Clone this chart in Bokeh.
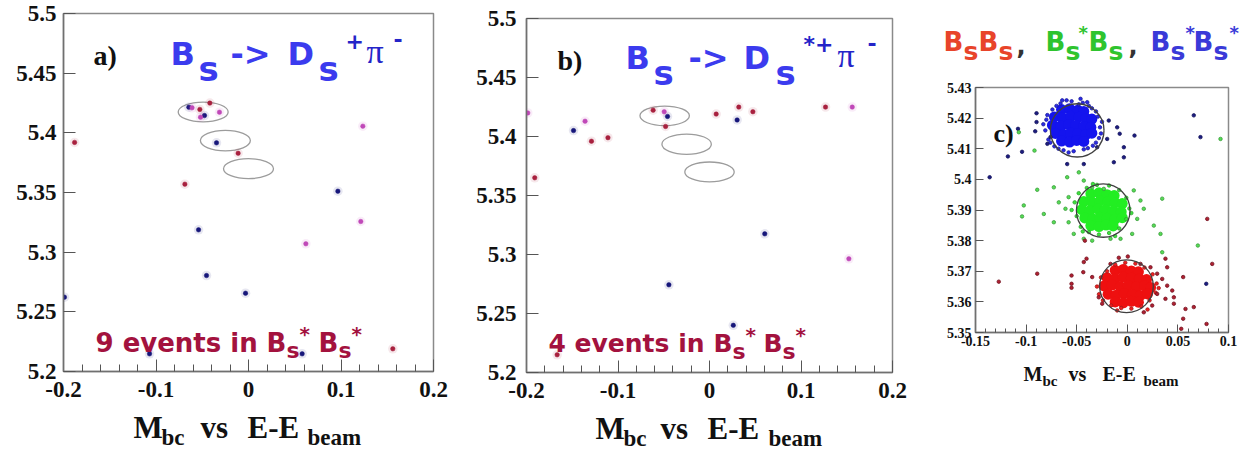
from bokeh.plotting import figure
from bokeh.models import Label, FixedTicker, Range1d
from bokeh.layouts import row, column
from bokeh.embed import file_html
from bokeh.resources import INLINE

# ---------------- data: panel a (Bs -> Ds+ pi-) ----------------
a_navy_x = [-0.0645, -0.0476, -0.0346, 0.0966, -0.054, -0.0454, -0.0032, -0.199, -0.107, 0.058]
a_navy_y = [5.4215, 5.4145, 5.3916, 5.3511, 5.3187, 5.2804, 5.2656, 5.2623, 5.2148, 5.2148]
a_maroon_x = [-0.188, -0.0526, -0.0418, -0.0112, -0.0688, 0.156]
a_maroon_y = [5.392, 5.4196, 5.4249, 5.3829, 5.357, 5.219]
a_magenta_x = [-0.061, -0.0314, -0.0519, 0.1236, 0.1214, 0.062]
a_magenta_y = [5.421, 5.4173, 5.4131, 5.4056, 5.3257, 5.307]

# ---------------- data: panel b (Bs -> Ds*+ pi-) ----------------
b_navy_x = [-0.1486, -0.0459, 0.0302, 0.0604, -0.0444, 0.026]
b_navy_y = [5.405, 5.417, 5.414, 5.3175, 5.2743, 5.240]
b_maroon_x = [-0.191, -0.129, -0.111, -0.0616, -0.048, 0.0073, 0.032, 0.0474, 0.1268, -0.1665]
b_maroon_y = [5.365, 5.396, 5.399, 5.4223, 5.4085, 5.419, 5.4249, 5.421, 5.4249, 5.215]
b_magenta_x = [-0.1986, -0.136, -0.0495, 0.156, 0.1523]
b_magenta_y = [5.420, 5.413, 5.421, 5.4249, 5.2963]

# signal ellipses shared by a and b
ell_x = [-0.049, -0.025, 0.0]
ell_y = [5.4175, 5.3935, 5.370]
ell_w = [0.054, 0.054, 0.054]
ell_h = [0.0165, 0.0172, 0.0168]

# ---------------- data: panel c (MC) ----------------
blue_core_x = [-0.065, -0.057, -0.049, -0.043,
               -0.072, -0.064, -0.056, -0.048, -0.041, -0.035,
               -0.074, -0.066, -0.058, -0.051, -0.043, -0.036,
               -0.071, -0.063, -0.056, -0.049, -0.041, -0.035,
               -0.065, -0.057, -0.050, -0.043]
blue_core_y = [5.4228, 5.4231, 5.4226, 5.4222,
               5.4204, 5.4201, 5.4206, 5.4203, 5.4199, 5.4197,
               5.4177, 5.4174, 5.4179, 5.4176, 5.4173, 5.4170,
               5.4150, 5.4147, 5.4152, 5.4149, 5.4146, 5.4151,
               5.4125, 5.4122, 5.4127, 5.4124]
blue_edge_x = [-0.080, -0.081, -0.078, -0.072, -0.063, -0.053, -0.043, -0.034, -0.028, -0.027,
               -0.029, -0.035, -0.044, -0.055, -0.066, -0.074, -0.079, -0.070, -0.060, -0.048,
               -0.038, -0.031, -0.025, -0.026, -0.031, -0.039, -0.058, -0.068, -0.076, -0.083,
               -0.0462, -0.0643, -0.0396]
blue_edge_y = [5.4195, 5.4160, 5.4130, 5.4108, 5.4095, 5.4092, 5.4098, 5.4110, 5.4135, 5.4170,
               5.4205, 5.4232, 5.4250, 5.4255, 5.4248, 5.4228, 5.4210, 5.4240, 5.4258, 5.4245,
               5.4240, 5.4222, 5.4188, 5.4150, 5.4120, 5.4102, 5.4088, 5.4100, 5.4120, 5.4180,
               5.4263, 5.4258, 5.4252]
blue_out_x = [-0.118, -0.104, -0.136, -0.0897, -0.0897, -0.091, -0.108, -0.0594, -0.043, -0.0298,
              -0.0133, -0.0034, -0.0034, -0.010, -0.0075, 0.0071, -0.0183, -0.0199, 0.0657, 0.0723,
              0.078, -0.079, -0.0759]
blue_out_y = [5.4075, 5.409, 5.4007, 5.4216, 5.4187, 5.4157, 5.4165, 5.405, 5.405, 5.4105,
              5.4056, 5.4072, 5.4105, 5.417, 5.4149, 5.4143, 5.4192, 5.4132, 5.4209, 5.4138,
              5.3659, 5.4116, 5.4138]

green_core_x = [-0.036, -0.028, -0.020, -0.013,
                -0.043, -0.035, -0.027, -0.019, -0.012, -0.005,
                -0.045, -0.037, -0.029, -0.022, -0.014, -0.006,
                -0.042, -0.034, -0.027, -0.020, -0.012, -0.005,
                -0.036, -0.028, -0.021, -0.014]
green_core_y = [5.3953, 5.3956, 5.3950, 5.3947,
                5.3928, 5.3925, 5.3930, 5.3927, 5.3923, 5.3921,
                5.3901, 5.3898, 5.3903, 5.3900, 5.3897, 5.3894,
                5.3874, 5.3871, 5.3876, 5.3873, 5.3870, 5.3875,
                5.3849, 5.3846, 5.3851, 5.3848]
green_edge_x = [-0.052, -0.050, -0.046, -0.038, -0.028, -0.018, -0.008, -0.001, 0.002, -0.001,
                -0.008, -0.018, -0.030, -0.040, -0.048, -0.055, -0.012, -0.034, 0.004, -0.044]
green_edge_y = [5.3925, 5.3880, 5.3845, 5.3828, 5.3820, 5.3825, 5.3840, 5.3870, 5.3905, 5.3940,
                5.3965, 5.3980, 5.3982, 5.3972, 5.3955, 5.3900, 5.3815, 5.3985, 5.3890, 5.3830]
green_out_x = [-0.1023, -0.104, -0.089, -0.0726, -0.0825, -0.0726, -0.0677, -0.0594, -0.0479, -0.043,
               -0.058, -0.0611, -0.058, -0.0529, -0.043, -0.0347, -0.0166, -0.0067, 0.0048, 0.0098,
               0.013, 0.0163, 0.0064, 0.0262, 0.0328, 0.0345, 0.0345, 0.0697, 0.0921, -0.1072,
               -0.0917, -0.0232, -0.0347]
green_out_y = [5.3915, 5.3879, 5.3966, 5.3974, 5.3887, 5.386, 5.3925, 5.4007, 5.4023, 5.3996,
               5.3942, 5.3904, 5.386, 5.3822, 5.3806, 5.380, 5.3806, 5.3806, 5.3822, 5.3871,
               5.3931, 5.3904, 5.3964, 5.3849, 5.3822, 5.3937, 5.3762, 5.3784, 5.4132, 5.4154,
               5.4094, 5.3969, 5.3974]

red_core_x = [-0.012, -0.004, 0.004, 0.011,
              -0.020, -0.012, -0.004, 0.004, 0.012, 0.019,
              -0.023, -0.015, -0.007, 0.001, 0.009, 0.017, 0.023,
              -0.019, -0.011, -0.003, 0.005, 0.013, 0.020,
              -0.012, -0.004, 0.004, 0.011]
red_core_y = [5.3703, 5.3706, 5.3701, 5.3698,
              5.3679, 5.3676, 5.3681, 5.3678, 5.3675, 5.3673,
              5.3652, 5.3655, 5.3650, 5.3653, 5.3649, 5.3652, 5.3647,
              5.3625, 5.3622, 5.3627, 5.3624, 5.3621, 5.3626,
              5.3600, 5.3597, 5.3602, 5.3599]
red_edge_x = [-0.030, -0.028, -0.026, -0.020, -0.012, -0.002, 0.008, 0.017, 0.025, 0.029,
              0.028, 0.022, 0.014, 0.004, -0.006, -0.016, -0.024, 0.031, 0.020, -0.010]
red_edge_y = [5.3650, 5.3625, 5.3680, 5.3700, 5.3722, 5.3728, 5.3725, 5.3712, 5.3690, 5.3660,
              5.3630, 5.3605, 5.3585, 5.3578, 5.3580, 5.3588, 5.3605, 5.3645, 5.3575, 5.3572]
red_out_x = [-0.127, -0.089, -0.0551, -0.0551, -0.0551, -0.043, -0.0403, -0.0435, -0.0347, -0.0282,
             -0.0248, -0.0419, -0.0166, -0.0084, 0.0005, 0.013, 0.0229, 0.0295, 0.0377, 0.0394,
             0.0345, 0.0394, 0.0444, 0.046, 0.0377, 0.046, 0.0295, 0.0163, 0.0246, 0.0552,
             0.0575, 0.0552, 0.0533, 0.0657, 0.0783, 0.079, 0.0839]
red_out_y = [5.3666, 5.3692, 5.3686, 5.3659, 5.3646, 5.373, 5.3741, 5.3697, 5.3681, 5.3615,
             5.3594, 5.380, 5.3724, 5.3744, 5.3748, 5.3724, 5.3713, 5.3692, 5.3741, 5.3713,
             5.3675, 5.3653, 5.3637, 5.3615, 5.361, 5.3594, 5.3626, 5.3566, 5.3588, 5.3681,
             5.3577, 5.3545, 5.3512, 5.3583, 5.3528, 5.3871, 5.3724]

circ_x = [-0.0495, -0.0238, -0.0008]
circ_y = [5.416, 5.3898, 5.3651]
circ_w = [0.053, 0.053, 0.053]
circ_h = [0.0174, 0.0174, 0.0172]

# ---------------- ticks ----------------
ab_xticks = [-0.2, -0.1, 0.0, 0.1, 0.2]
ab_xlabels = ["-0.2", "-0.1", "0", "0.1", "0.2"]
ab_xminor = [-0.18, -0.16, -0.14, -0.12, -0.08, -0.06, -0.04, -0.02,
             0.02, 0.04, 0.06, 0.08, 0.12, 0.14, 0.16, 0.18]
ab_yticks = [5.2, 5.25, 5.3, 5.35, 5.4, 5.45, 5.5]
ab_ylabels = ["5.2", "5.25", "5.3", "5.35", "5.4", "5.45", "5.5"]
c_xticks = [-0.15, -0.1, -0.05, 0.0, 0.05, 0.1]
c_xlabels = ["-0.15", "-0.1", "-0.05", "0", "0.05", "0.1"]
c_xminor = [-0.14, -0.13, -0.12, -0.11, -0.09, -0.08, -0.07, -0.06, -0.04, -0.03, -0.02, -0.01,
            0.01, 0.02, 0.03, 0.04, 0.06, 0.07, 0.08, 0.09]
c_yticks = [5.35, 5.36, 5.37, 5.38, 5.39, 5.4, 5.41, 5.42, 5.43]
c_ylabels = ["5.35", "5.36", "5.37", "5.38", "5.39", "5.4", "5.41", "5.42", "5.43"]

NAVY = "#16167a"
MAROON = "#a8203e"
MAGENTA = "#c048b8"
TBLUE = "#3b3bee"
DBLUE = "#2424c8"
EVCOL = "#a3123e"
BLACK = "#111111"
SERIF = "Liberation Serif"
SANS = "DejaVu Sans"


def no_align(p):
    try:
        p.frame_align = False
    except Exception:
        pass


def make_fig(fw, fh, left, right, top, bottom, xr, yr):
    p = figure(frame_width=fw, frame_height=fh, x_range=Range1d(*xr), y_range=Range1d(*yr),
               output_backend="svg", toolbar_location=None,
               min_border_left=left, min_border_right=right,
               min_border_top=top, min_border_bottom=bottom)
    p.grid.visible = False
    p.outline_line_color = "#8a8a8a"
    p.outline_line_width = 1.5
    p.background_fill_color = "white"
    p.border_fill_color = "white"
    no_align(p)
    return p


def text_fig(x0, x1, y0, y1):
    """A bare figure whose frame is a strip of the page, in page pixels."""
    p = figure(frame_width=x1 - x0, frame_height=y1 - y0,
               x_range=Range1d(x0, x1), y_range=Range1d(y1, y0),
               x_axis_location=None, y_axis_location=None,
               output_backend="svg", toolbar_location=None,
               min_border=0, min_border_left=0, min_border_right=0,
               min_border_top=0, min_border_bottom=0)
    p.grid.visible = False
    p.outline_line_color = None
    p.background_fill_color = "white"
    p.border_fill_color = "white"
    no_align(p)
    return p


def style_axes(p, xt, xl, xm, yt, yl, fsize, tin, tmin, standoff_x, standoff_y):
    p.xaxis.ticker = FixedTicker(ticks=xt, minor_ticks=xm)
    p.xaxis.major_label_overrides = {t: s for t, s in zip(xt, xl)}
    p.yaxis.ticker = FixedTicker(ticks=yt, minor_ticks=[])
    p.yaxis.major_label_overrides = {t: s for t, s in zip(yt, yl)}
    for ax in (p.xaxis, p.yaxis):
        ax.axis_line_color = "#707070"
        ax.axis_line_width = 1.5
        ax.major_tick_line_color = "#555555"
        ax.minor_tick_line_color = "#555555"
        ax.major_tick_in = tin
        ax.major_tick_out = 0
        ax.minor_tick_in = tmin
        ax.minor_tick_out = 0
        ax.major_label_text_font = SERIF
        ax.major_label_text_font_style = "bold"
        ax.major_label_text_font_size = fsize
        ax.major_label_text_color = BLACK
    p.yaxis.minor_tick_line_color = None
    p.xaxis.major_label_standoff = standoff_x
    p.yaxis.major_label_standoff = standoff_y


def pieces(p, fx, fy, items):
    for text, px, py, size, font, fstyle, color in items:
        p.add_layout(Label(x=fx(px), y=fy(py), text=text, text_font=font,
                           text_font_size=f"{size}px", text_font_style=fstyle,
                           text_color=color, text_align="left",
                           text_baseline="alphabetic"))


ident = lambda v: v


def dots(p, xs, ys, color, size=4.5):
    p.scatter(xs, ys, size=size + 5, fill_color=color, line_color=None, fill_alpha=0.10)
    p.scatter(xs, ys, size=size, fill_color=color, line_color=color, line_alpha=0.5)


def xlabel_items(m, bc, vs, ee, beam, base, subbase, big, small):
    return [("M", m, base, big, SERIF, "bold", BLACK),
            ("bc", bc, subbase, small, SERIF, "bold", BLACK),
            ("vs", vs, base, big, SERIF, "bold", BLACK),
            ("E-E", ee, base, big, SERIF, "bold", BLACK),
            ("beam", beam, subbase, small, SERIF, "bold", BLACK)]


# ---------------- panel a (page x 0..471) ----------------
pa = make_fig(370, 358, 63, 38, 13, 36, (-0.2, 0.2), (5.2, 5.5))
style_axes(pa, ab_xticks, ab_xlabels, ab_xminor, ab_yticks, ab_ylabels, "23px", 12, 7, 10, 7)
pa.ellipse(ell_x, ell_y, width=ell_w, height=ell_h, fill_color=None,
           line_color="#9c9c9c", line_width=1.3)
dots(pa, a_navy_x, a_navy_y, NAVY)
dots(pa, a_maroon_x, a_maroon_y, MAROON)
dots(pa, a_magenta_x, a_magenta_y, MAGENTA)

fax = lambda px: (px - 63) / 925.0 - 0.2
fay = lambda py: 5.5 - (py - 13) / 1193.33
pieces(pa, fax, fay, [
    ("a)", 93, 55, 28, SERIF, "bold", BLACK),
    ("B", 170, 53, 32, SANS, "bold", TBLUE),
    ("s", 198, 68, 34, SANS, "bold", TBLUE),
    ("->", 230, 53, 32, SANS, "bold", TBLUE),
    ("D", 287, 53, 32, SANS, "bold", TBLUE),
    ("s", 318, 68, 34, SANS, "bold", TBLUE),
    ("+", 345, 40, 22, SANS, "bold", DBLUE),
    ("\u03c0", 366, 51, 34, SERIF, "normal", DBLUE),
    ("-", 393, 38, 22, SANS, "bold", DBLUE),
    ("9 events in", 95, 342, 26, SANS, "bold", EVCOL),
    ("B", 266, 342, 26, SANS, "bold", EVCOL),
    ("s", 286, 350, 22, SANS, "bold", EVCOL),
    ("*", 299, 333, 20, SANS, "bold", EVCOL),
    ("B", 318, 342, 26, SANS, "bold", EVCOL),
    ("s", 338, 350, 22, SANS, "bold", EVCOL),
    ("*", 351, 333, 20, SANS, "bold", EVCOL),
])
ta = text_fig(0, 471, 407, 451)
pieces(ta, ident, ident, xlabel_items(133, 161, 200, 247, 307, 427, 437, 31, 23))

# ---------------- panel b (page x 471..930) ----------------
pb = make_fig(366, 354, 55, 38, 18, 36, (-0.2, 0.2), (5.2, 5.5))
style_axes(pb, ab_xticks, ab_xlabels, ab_xminor, ab_yticks, ab_ylabels, "23px", 12, 7, 10, 10)
pb.ellipse(ell_x, ell_y, width=ell_w, height=ell_h, fill_color=None,
           line_color="#9c9c9c", line_width=1.3)
dots(pb, b_navy_x, b_navy_y, NAVY)
dots(pb, b_maroon_x, b_maroon_y, MAROON)
dots(pb, b_magenta_x, b_magenta_y, MAGENTA)

fbx = lambda px: (px - 526) / 915.0 - 0.2
fby = lambda py: 5.5 - (py - 18) / 1180.0
pieces(pb, fbx, fby, [
    ("b)", 557, 60, 28, SERIF, "bold", BLACK),
    ("B", 625, 57, 32, SANS, "bold", TBLUE),
    ("s", 653, 72, 34, SANS, "bold", TBLUE),
    ("->", 688, 57, 32, SANS, "bold", TBLUE),
    ("D", 743, 57, 32, SANS, "bold", TBLUE),
    ("s", 775, 72, 34, SANS, "bold", TBLUE),
    ("*+", 803, 44, 22, SANS, "bold", DBLUE),
    ("\u03c0", 837, 55, 34, SERIF, "normal", DBLUE),
    ("-", 867, 42, 22, SANS, "bold", DBLUE),
    ("4 events in", 548, 343, 25, SANS, "bold", EVCOL),
    ("B", 713, 343, 25, SANS, "bold", EVCOL),
    ("s", 732, 351, 22, SANS, "bold", EVCOL),
    ("*", 745, 334, 20, SANS, "bold", EVCOL),
    ("B", 763, 343, 25, SANS, "bold", EVCOL),
    ("s", 782, 351, 22, SANS, "bold", EVCOL),
    ("*", 795, 334, 20, SANS, "bold", EVCOL),
])
tb = text_fig(471, 930, 408, 451)
pieces(tb, ident, ident, xlabel_items(595, 623, 660, 707, 768, 428, 438, 31, 23))

# ---------------- panel c (page x 930..1256) ----------------
RED = "#e8442a"
GREEN = "#2ec42e"
BLUE = "#3a3ad8"
tc_top = text_fig(930, 1256, 0, 72)
pieces(tc_top, ident, ident, [
    ("B", 943, 41, 26, SANS, "bold", RED),
    ("s", 963, 51, 25, SANS, "bold", RED),
    ("B", 978, 41, 26, SANS, "bold", RED),
    ("s", 998, 51, 25, SANS, "bold", RED),
    (",", 1016, 44, 24, SANS, "bold", "#333333"),
    ("B", 1045, 41, 26, SANS, "bold", GREEN),
    ("s", 1065, 51, 25, SANS, "bold", GREEN),
    ("*", 1078, 32, 18, SANS, "bold", GREEN),
    ("B", 1088, 41, 26, SANS, "bold", GREEN),
    ("s", 1108, 51, 25, SANS, "bold", GREEN),
    (",", 1128, 44, 24, SANS, "bold", "#333333"),
    ("B", 1150, 41, 26, SANS, "bold", BLUE),
    ("s", 1170, 51, 25, SANS, "bold", BLUE),
    ("*", 1185, 32, 18, SANS, "bold", BLUE),
    ("B", 1193, 41, 26, SANS, "bold", BLUE),
    ("s", 1213, 51, 25, SANS, "bold", BLUE),
    ("*", 1229, 32, 18, SANS, "bold", BLUE),
])

pc = make_fig(253, 245, 45, 28, 15, 28, (-0.15, 0.1), (5.35, 5.43))
style_axes(pc, c_xticks, c_xlabels, c_xminor, c_yticks, c_ylabels, "14px", 8, 4, 3, 4)


def cdots(p, xs, ys, fill, line, size):
    p.scatter(xs, ys, size=size, fill_color=fill, line_color=line, line_width=0.8)


cdots(pc, blue_core_x, blue_core_y, "#1414ee", None, 11)
cdots(pc, blue_edge_x, blue_edge_y, "#2a2ae6", "#1c1c9a", 3.5)
cdots(pc, blue_out_x, blue_out_y, "#1c1c80", "#14145a", 3.5)
cdots(pc, green_core_x, green_core_y, "#22ee22", None, 11)
cdots(pc, green_edge_x, green_edge_y, "#3ee03e", "#2aa82a", 3.5)
cdots(pc, green_out_x, green_out_y, "#55dd55", "#3a9a3a", 3.5)
cdots(pc, red_core_x, red_core_y, "#ee1010", None, 11)
cdots(pc, red_edge_x, red_edge_y, "#ee2020", "#a01818", 3.5)
cdots(pc, red_out_x, red_out_y, "#b02030", "#701020", 3.5)
pc.ellipse(circ_x, circ_y, width=circ_w, height=circ_h, fill_color=None,
           line_color="#404040", line_width=1.3)

fcx = lambda px: (px - 975) / 1012.0 - 0.15
fcy = lambda py: 5.43 - (py - 87) / 3062.5
pieces(pc, fcx, fcy, [("c)", 993, 133, 26, SERIF, "bold", BLACK)])

tc_bot = text_fig(930, 1256, 360, 451)
pieces(tc_bot, ident, ident, xlabel_items(1023, 1042, 1068, 1102, 1143, 373, 380, 20, 15))

layout = row(column(pa, ta), column(pb, tb), column(tc_top, pc, tc_bot))
open("out.html", "w").write(file_html(layout, INLINE))
